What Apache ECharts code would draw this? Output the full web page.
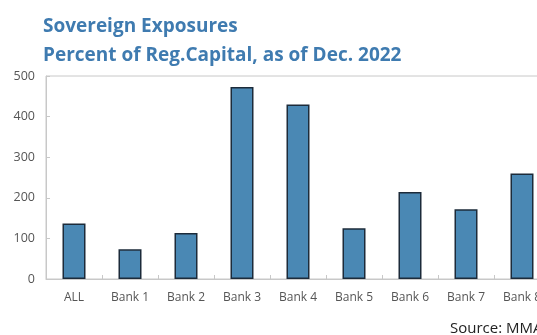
<!DOCTYPE html>
<html>
<head>
<meta charset="utf-8">
<script src="https://cdn.jsdelivr.net/npm/echarts@6/dist/echarts.min.js"></script>
<style>
  html, body { margin: 0; padding: 0; background: #fff; overflow: hidden; }
  #chart { width: 560px; height: 335px; }
</style>
</head>
<body>
<div id="chart"></div>
<script>
// Sovereign exposures by bank, percent of regulatory capital
const categories = ['ALL', 'Bank 1', 'Bank 2', 'Bank 3', 'Bank 4', 'Bank 5', 'Bank 6', 'Bank 7', 'Bank 8'];
const exposures = [137, 73, 113, 473, 430, 125, 214, 172, 260];
const yTicks = { min: 0, max: 500, interval: 100 };

const chart = echarts.init(document.getElementById('chart'), null, { renderer: 'canvas' });
const labelFont = 'Open Sans, Noto Sans, sans-serif';

chart.setOption({
  animation: false,
  backgroundColor: '#ffffff',
  title: [
    {
      text: 'Sovereign Exposures\nPercent of Reg.Capital, as of Dec. 2022',
      left: 38,
      top: 7,
      textStyle: {
        fontFamily: labelFont,
        fontSize: 19,
        fontWeight: 'bold',
        color: '#3f7bb0',
        lineHeight: 29
      }
    },
    {
      text: 'Source: MMA',
      left: 445,
      top: 316,
      textStyle: {
        fontFamily: labelFont,
        fontSize: 15,
        fontWeight: 'normal',
        color: '#222'
      }
    }
  ],
  grid: {
    left: 46,
    right: 10,
    top: 76,
    bottom: 56,
    show: true,
    borderColor: '#c8c8c8',
    borderWidth: 1,
    containLabel: false
  },
  xAxis: {
    type: 'category',
    data: categories,
    boundaryGap: true,
    axisLine: { show: true, lineStyle: { color: '#c8c8c8' } },
    axisTick: { show: true, inside: true, length: 4, lineStyle: { color: '#c8c8c8' } },
    axisLabel: {
      margin: 13,
      fontFamily: labelFont,
      fontSize: 12,
      color: '#555'
    },
    splitLine: { show: false }
  },
  yAxis: {
    type: 'value',
    min: yTicks.min,
    max: yTicks.max,
    interval: yTicks.interval,
    axisLine: { show: true, lineStyle: { color: '#c8c8c8' } },
    axisTick: { show: true, inside: true, length: 4, lineStyle: { color: '#c8c8c8' } },
    axisLabel: {
      margin: 11,
      fontFamily: labelFont,
      fontSize: 12.5,
      color: '#555'
    },
    splitLine: { show: false }
  },
  series: [
    {
      type: 'bar',
      data: exposures,
      barWidth: 23,
      itemStyle: {
        color: '#4a88b4',
        borderColor: '#1c2b3a',
        borderWidth: 1.5
      }
    }
  ]
});
</script>
</body>
</html>
